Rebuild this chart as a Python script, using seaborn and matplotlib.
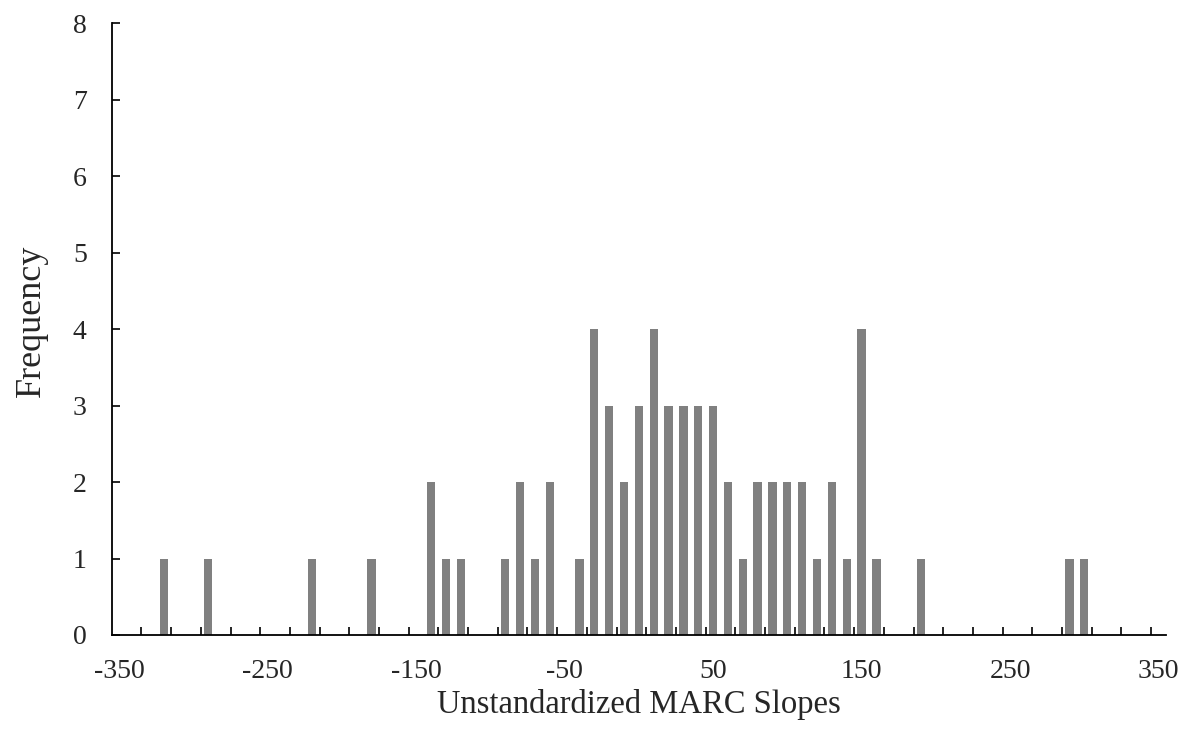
import matplotlib
matplotlib.use("Agg")
import matplotlib.pyplot as plt
import seaborn as sns
import pandas as pd
import numpy as np
from matplotlib.ticker import FixedLocator

# Data: bin centre (unstandardized MARC slope) and frequency
slopes = [-320, -290, -220, -180, -140, -130, -120, -90, -80, -70, -60, -40,
          -30, -20, -10, 0, 10, 20, 30, 40, 50, 60, 70, 80, 90, 100, 110, 120,
          130, 140, 150, 160, 190, 290, 300]
frequency = [1, 1, 1, 1, 2, 1, 1, 1, 2, 1, 2, 1,
             4, 3, 2, 3, 4, 3, 3, 3, 3, 2, 1, 2, 2, 2, 2, 1,
             2, 1, 4, 1, 1, 1, 1]
x_tick_labels = [-350, -250, -150, -50, 50, 150, 250, 350]
y_ticks = [0, 1, 2, 3, 4, 5, 6, 7, 8]

df = pd.DataFrame({"slope": slopes, "freq": frequency})

sns.set_style("white")
plt.rcParams["font.family"] = ["Liberation Serif", "DejaVu Serif"]

fig = plt.figure(figsize=(11.91, 7.33), dpi=100)
ax = fig.add_axes([0.0938, 0.1337, 0.979 - 0.0938, 0.968 - 0.1337])

sns.barplot(data=df, x="slope", y="freq", native_scale=True, width=0.56,
            color="#808080", saturation=1, ax=ax, linewidth=0, errorbar=None)

ax.set_xlim(-355, 355)
ax.set_ylim(0, 8)

ax.xaxis.set_major_locator(FixedLocator(x_tick_labels))
ax.set_xticklabels([str(v) for v in x_tick_labels])
ax.xaxis.set_minor_locator(FixedLocator(list(range(-335, 346, 20))))
ax.set_yticks(y_ticks)
ax.set_yticklabels([str(v) for v in y_ticks])

ax.tick_params(axis="x", which="major", length=0, pad=17, labelsize=20)
ax.tick_params(axis="x", which="minor", direction="in", length=6, width=1.2,
               color="black", bottom=True)
ax.tick_params(axis="y", which="major", direction="in", length=6, width=1.2,
               color="black", pad=18, labelsize=20, left=True)

for side in ["top", "right"]:
    ax.spines[side].set_visible(False)
for side in ["left", "bottom"]:
    ax.spines[side].set_visible(True)
    ax.spines[side].set_color("black")
    ax.spines[side].set_linewidth(1.3)

ax.set_xlabel("Unstandardized MARC Slopes", fontsize=23.5, labelpad=4)
ax.set_ylabel("Frequency", fontsize=26, labelpad=18)
ax.yaxis.label.set_y(0.513)
ax.grid(False)

fig.savefig("out.png", dpi=100)
